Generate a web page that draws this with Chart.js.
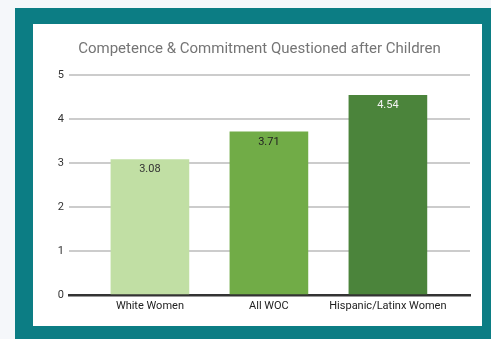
<!DOCTYPE html>
<html>
<head>
<meta charset="utf-8">
<script src="https://cdn.jsdelivr.net/npm/chart.js@4/dist/chart.umd.min.js"></script>
<style>
  html, body { margin: 0; padding: 0; }
  body { width: 491px; height: 339px; background: #f5f7fa; position: relative; overflow: hidden; }
  #frame { position: absolute; left: 15px; top: 8px; width: 476px; height: 340px; background: #0c7d84; }
  #card { position: absolute; left: 33px; top: 24px; width: 449px; height: 302px; background: #fff; }
</style>
</head>
<body>
<div id="frame"></div>
<div id="card"><canvas id="myChart" width="449" height="302"></canvas></div>
<script>
// data
const categories = ["White Women", "All WOC", "Hispanic/Latinx Women"];
const values = [3.08, 3.71, 4.54];
const barColors = ["#c1dfa4", "#71ac47", "#4b843b"];
const labelColors = ["#333333", "#222222", "#f2f2f2"];
const yTicks = [0, 1, 2, 3, 4, 5];

// value labels inside the top of each bar
const barLabels = {
  id: "barLabels",
  afterDatasetsDraw(chart) {
    const ctx = chart.ctx;
    const meta = chart.getDatasetMeta(0);
    ctx.save();
    ctx.font = "11px Roboto";
    ctx.textAlign = "center";
    ctx.textBaseline = "middle";
    meta.data.forEach((bar, i) => {
      ctx.fillStyle = labelColors[i];
      ctx.fillText(values[i].toFixed(2), bar.x, bar.y + 10);
    });
    ctx.restore();
  },
};

const config = {
  type: "bar",
  data: {
    datasets: [
      {
        data: values.map((v, i) => ({ x: i, y: v })),
        backgroundColor: barColors,
        borderWidth: 0,
        barThickness: 78,
      },
    ],
  },
  options: {
    responsive: false,
    animation: false,
    layout: { padding: { left: 16, right: 12, top: 0, bottom: 0 } },
    plugins: {
      legend: { display: false },
      tooltip: { enabled: false },
      title: {
        display: true,
        text: "Competence & Commitment Questioned after Children",
        color: "#757575",
        font: { family: "Roboto", size: 15, weight: "normal" },
        padding: { top: 16, bottom: 17 },
      },
    },
    scales: {
      x: {
        type: "linear",
        offset: false,
        min: -0.68,
        max: 2.69,
        z: 1,
        afterBuildTicks: (axis) => {
          axis.ticks = categories.map((c, i) => ({ value: i }));
        },
        afterFit: (axis) => {
          axis.height = 31;
        },
        grid: { display: false, drawTicks: false, offset: false },
        border: { display: true, color: "#333333", width: 2.5 },
        ticks: {
          autoSkip: false,
          maxRotation: 0,
          padding: 5,
          color: "#222222",
          font: { family: "Roboto", size: 11 },
          callback: (v) => categories[v],
        },
      },
      y: {
        min: 0,
        max: 5,
        afterBuildTicks: (axis) => {
          axis.ticks = yTicks.map((v) => ({ value: v }));
        },
        afterFit: (axis) => {
          axis.width = 20;
        },
        grid: { color: "#cccccc", lineWidth: 2, drawTicks: false },
        border: { display: false },
        ticks: {
          padding: 5,
          color: "#333333",
          font: { family: "Roboto", size: 11 },
        },
      },
    },
  },
  plugins: [barLabels],
};

const myChart = new Chart(document.getElementById("myChart"), config);
</script>
</body>
</html>
